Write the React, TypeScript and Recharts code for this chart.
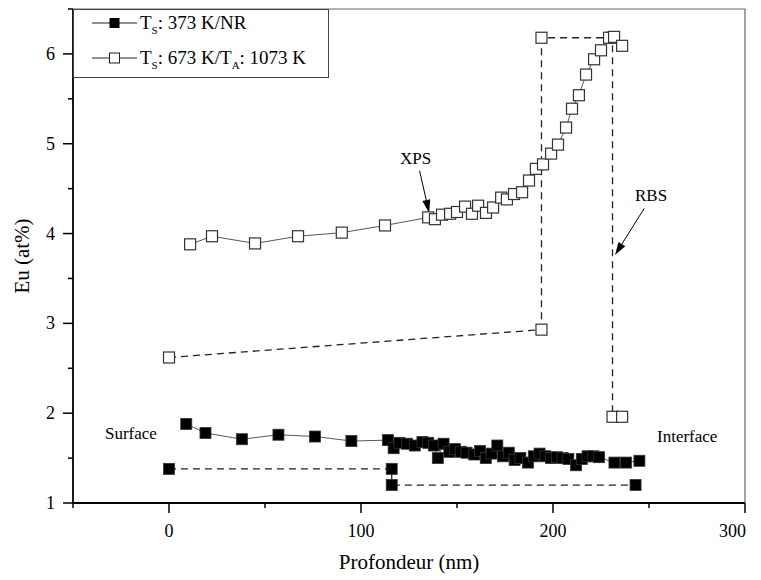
import React from 'react';
import { ComposedChart, Line, XAxis, YAxis, ReferenceLine, Label } from 'recharts';

// XPS profile, Ts = 373 K / NR (filled squares)
const nrXpsDepth = [9, 19, 38, 57, 76, 95, 114, 117, 120, 124, 128, 132, 135, 138, 140, 143, 146, 149, 152, 155, 159, 162, 165, 168, 171, 174, 177, 180, 183, 187, 190, 193, 196, 199, 202, 205, 208, 212, 215, 218, 221, 224, 232, 238, 245];
const nrXpsEu = [1.88, 1.78, 1.71, 1.76, 1.74, 1.69, 1.70, 1.61, 1.67, 1.66, 1.64, 1.68, 1.67, 1.64, 1.50, 1.66, 1.57, 1.60, 1.57, 1.56, 1.54, 1.58, 1.50, 1.55, 1.64, 1.52, 1.56, 1.48, 1.50, 1.45, 1.52, 1.55, 1.52, 1.50, 1.51, 1.50, 1.49, 1.42, 1.49, 1.52, 1.52, 1.51, 1.45, 1.45, 1.47];

// RBS profile, Ts = 373 K / NR
const nrRbsDepth = [0, 116, 116, 243];
const nrRbsEu = [1.38, 1.38, 1.2, 1.2];

// XPS profile, Ts = 673 K / Ta = 1073 K (open squares)
const anXpsDepth = [11, 22.4, 44.8, 67.2, 90, 112.5, 135, 138.5, 142.2, 146.4, 150, 154.2, 157.8, 161, 165.1, 168.8, 173, 176, 179.7, 183.9, 187.5, 191.1, 194.8, 199, 202.6, 206.8, 209.9, 213.5, 217.2, 221.4, 225, 229.2, 231.8, 236];
const anXpsEu = [3.88, 3.97, 3.89, 3.97, 4.01, 4.09, 4.18, 4.16, 4.21, 4.22, 4.24, 4.30, 4.22, 4.31, 4.23, 4.29, 4.40, 4.38, 4.44, 4.46, 4.59, 4.72, 4.77, 4.89, 4.99, 5.18, 5.39, 5.54, 5.77, 5.94, 6.04, 6.18, 6.19, 6.09];

// RBS profile, Ts = 673 K / Ta = 1073 K
const anRbsDepth = [0, 194, 194, 231, 231, 236];
const anRbsEu = [2.62, 2.93, 6.18, 6.18, 1.96, 1.96];

const xTicks = [-50, 0, 50, 100, 150, 200, 250, 300];
const yTicks = [1, 1.5, 2, 2.5, 3, 3.5, 4, 4.5, 5, 5.5, 6, 6.5];

const zip = (xs: number[], ys: number[]) => xs.map((x, i) => ({ x, y: ys[i] }));

const nrXps = zip(nrXpsDepth, nrXpsEu);
const nrRbs = zip(nrRbsDepth, nrRbsEu);
const anXps = zip(anXpsDepth, anXpsEu);
const anRbs = zip(anRbsDepth, anRbsEu);

const FONT = '"Liberation Serif", "Times New Roman", serif';

const FilledSquare = (p: any) => {
  if (p.cx == null || p.cy == null) return <g key={p.key} />;
  return <rect key={p.key} x={p.cx - 5.5} y={p.cy - 5.5} width={11} height={11} fill="#000" stroke="#333" strokeWidth={0.8} />;
};

const OpenSquare = (p: any) => {
  if (p.cx == null || p.cy == null) return <g key={p.key} />;
  return <rect key={p.key} x={p.cx - 5.5} y={p.cy - 5.5} width={11} height={11} fill="#fff" stroke="#333" strokeWidth={1.2} />;
};

const XTick = (p: any) => {
  const { x, y, payload } = p;
  const v = payload.value;
  const major = v % 100 === 0;
  const last = v === 300;
  return (
    <g>
      <line x1={x} x2={x} y1={y} y2={y + (major ? 10 : 5)} stroke="#000" strokeWidth={1.5} />
      {major && v >= 0 && (
        <text x={last ? x + 1 : x} y={y + 34} textAnchor={last ? 'end' : 'middle'} style={{ fontFamily: FONT, fontSize: 18 }} fill="#000">{v}</text>
      )}
    </g>
  );
};

const YTick = (p: any) => {
  const { x, y, payload } = p;
  const v = payload.value;
  const major = Number.isInteger(v);
  return (
    <g>
      <line x1={x} x2={x - (major ? 10 : 5)} y1={y} y2={y} stroke="#000" strokeWidth={1.5} />
      {major && (
        <text x={x - 18} y={y + 6} textAnchor="end" style={{ fontFamily: FONT, fontSize: 18 }} fill="#000">{v}</text>
      )}
    </g>
  );
};

const Arrow = (p: any) => {
  const { x1, y1, x2, y2 } = p;
  if ([x1, y1, x2, y2].some((v) => v == null)) return <g />;
  const ang = Math.atan2(y2 - y1, x2 - x1);
  const len = 13;
  const w = 4;
  const bx = x2 - len * Math.cos(ang);
  const by = y2 - len * Math.sin(ang);
  const nx = -Math.sin(ang) * w;
  const ny = Math.cos(ang) * w;
  return (
    <g>
      <line x1={x1} y1={y1} x2={bx} y2={by} stroke="#000" strokeWidth={1} />
      <polygon points={`${x2},${y2} ${bx + nx},${by + ny} ${bx - nx},${by - ny}`} fill="#000" />
    </g>
  );
};

const textStyle: React.CSSProperties = { position: 'absolute', fontFamily: FONT, fontSize: 17, color: '#000', whiteSpace: 'nowrap', lineHeight: 1 };

export default function App() {
  return (
    <div style={{ position: 'absolute', left: 0, top: 0, width: 761, height: 580, overflow: 'hidden', background: '#fff', fontFamily: FONT }}>
      <ComposedChart width={761} height={580} margin={{ top: 9, right: 16, bottom: 0, left: 0 }} style={{ fontFamily: FONT }}>
        <XAxis
          type="number"
          dataKey="x"
          domain={[-50, 300]}
          ticks={xTicks}
          tick={<XTick />}
          tickLine={false}
          tickSize={0}
          tickMargin={0}
          height={77}
          axisLine={{ stroke: '#000', strokeWidth: 1.8 }}
          allowDataOverflow
        >
          <Label value="Profondeur (nm)" position="insideBottom" offset={11} style={{ fontFamily: FONT, fontSize: 21, fill: '#000' }} />
        </XAxis>
        <YAxis
          type="number"
          dataKey="y"
          domain={[1, 6.5]}
          ticks={yTicks}
          tick={<YTick />}
          tickLine={false}
          tickSize={0}
          tickMargin={0}
          width={73}
          axisLine={{ stroke: '#000', strokeWidth: 1.8 }}
          allowDataOverflow
        >
          <Label value="Eu (at%)" angle={-90} position="insideLeft" offset={22} style={{ fontFamily: FONT, fontSize: 21, fill: '#000', textAnchor: 'middle' }} />
        </YAxis>
        <ReferenceLine y={6.5} stroke="#666" strokeWidth={1.2} />
        <ReferenceLine x={300} stroke="#666" strokeWidth={1.2} />

        <Line data={nrRbs} dataKey="y" type="linear" stroke="#222" strokeWidth={1.3} strokeDasharray="7 5" dot={<FilledSquare />} isAnimationActive={false} />
        <Line data={anRbs} dataKey="y" type="linear" stroke="#222" strokeWidth={1.3} strokeDasharray="7 5" dot={<OpenSquare />} isAnimationActive={false} />
        <Line data={nrXps} dataKey="y" type="linear" stroke="#444" strokeWidth={0.9} dot={<FilledSquare />} isAnimationActive={false} />
        <Line data={anXps} dataKey="y" type="linear" stroke="#444" strokeWidth={0.9} dot={<OpenSquare />} isAnimationActive={false} />

        <ReferenceLine segment={[{ x: 130.5, y: 4.7 }, { x: 135.5, y: 4.23 }]} shape={<Arrow />} />
        <ReferenceLine segment={[{ x: 247.5, y: 4.28 }, { x: 232.3, y: 3.76 }]} shape={<Arrow />} />
      </ComposedChart>

      <div style={{ ...textStyle, left: 400, top: 150 }}>XPS</div>
      <div style={{ ...textStyle, left: 635, top: 187 }}>RBS</div>
      <div style={{ ...textStyle, left: 105, top: 425 }}>Surface</div>
      <div style={{ ...textStyle, left: 657, top: 428 }}>Interface</div>

      <div style={{ position: 'absolute', left: 73, top: 9, width: 256, height: 69, border: '1px solid #444', background: '#fff', boxSizing: 'border-box', fontFamily: FONT, fontSize: 19, color: '#000' }}>
        <svg width={256} height={69} style={{ position: 'absolute', left: -1, top: -1 }}>
          <line x1={19} x2={64} y1={14} y2={14} stroke="#222" strokeWidth={1} />
          <rect x={36.5} y={9} width={10} height={10} fill="#000" />
          <line x1={19} x2={64} y1={49} y2={49} stroke="#222" strokeWidth={1} />
          <rect x={36.5} y={44} width={10} height={10} fill="#fff" stroke="#222" strokeWidth={1} />
        </svg>
        <div style={{ position: 'absolute', left: 66, top: 3, whiteSpace: 'nowrap', lineHeight: '20px' }}>
          T<sub style={{ fontSize: 11 }}>S</sub>: 373 K/NR
        </div>
        <div style={{ position: 'absolute', left: 66, top: 38, whiteSpace: 'nowrap', lineHeight: '20px' }}>
          T<sub style={{ fontSize: 11 }}>S</sub>: 673 K/T<sub style={{ fontSize: 11 }}>A</sub>: 1073 K
        </div>
      </div>
    </div>
  );
}
